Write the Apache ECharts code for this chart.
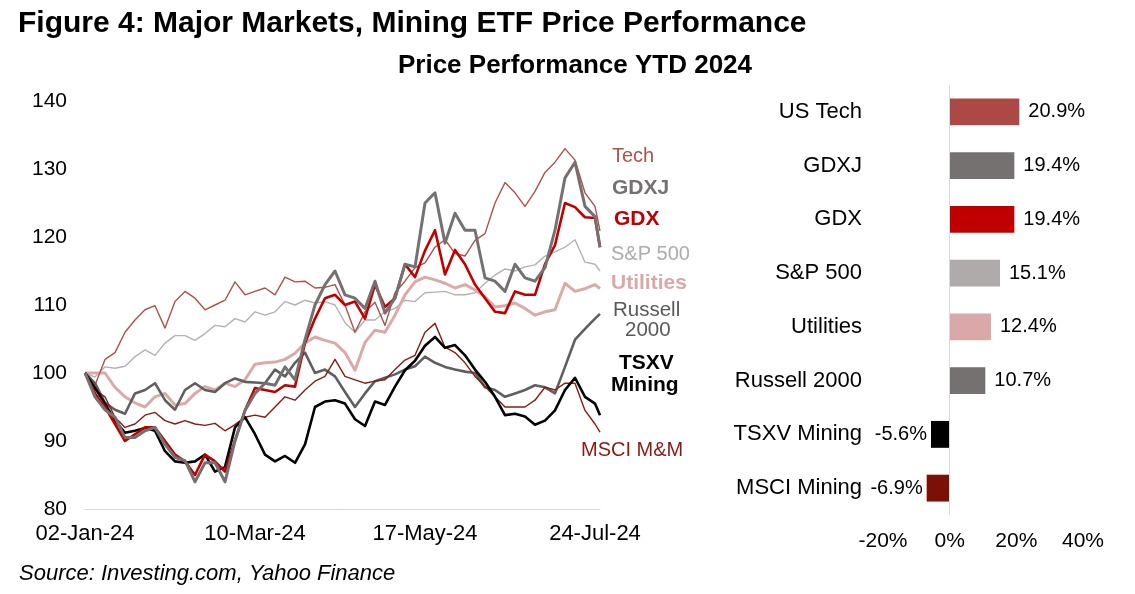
<!DOCTYPE html>
<html>
<head>
<meta charset="utf-8">
<script src="https://cdn.jsdelivr.net/npm/echarts@6/dist/echarts.min.js"></script>
<style>
html,body{margin:0;padding:0;background:#fff;}
#chart{width:1135px;height:594px;}
</style>
</head>
<body>
<div id="chart"></div>
<script>
// ---------- DATA ----------
const dates = ["2024-01-02","2024-01-06","2024-01-10","2024-01-14","2024-01-18","2024-01-22","2024-01-26","2024-01-30",
"2024-02-03","2024-02-07","2024-02-11","2024-02-15","2024-02-19","2024-02-23","2024-02-27","2024-03-02","2024-03-06",
"2024-03-10","2024-03-14","2024-03-18","2024-03-22","2024-03-26","2024-03-30","2024-04-03","2024-04-07","2024-04-11",
"2024-04-15","2024-04-19","2024-04-23","2024-04-27","2024-05-01","2024-05-05","2024-05-09","2024-05-13","2024-05-17",
"2024-05-21","2024-05-25","2024-05-29","2024-06-02","2024-06-06","2024-06-10","2024-06-14","2024-06-18","2024-06-22",
"2024-06-26","2024-06-30","2024-07-04","2024-07-08","2024-07-12","2024-07-16","2024-07-20","2024-07-24","2024-07-26"];

const tech = [100,98.2,102,103,106,107.8,109.3,109.9,106.6,110.5,112,111,109.3,110,110.7,113.4,111.5,112,112.5,111.5,
114.1,113.4,113.5,112.5,112.6,113,110,106,109,110.4,107,111.8,113.5,115.5,116.2,118.5,119.6,117.6,117.2,119.5,
120.5,125,128,126.5,124.5,126.7,129.5,131,133,131.3,126.5,124.5,120.9];
const gdxj = [100,96.5,94.6,93.5,90.5,90.5,91.5,92,89.5,87.6,87.1,84,86.8,86.8,84,90,94.5,97,98.5,98.2,
100.9,99,104.9,110,113,115,111.5,111,109.5,113.5,108.8,111,116,115.6,125,126.5,119.1,123.5,121,121,
114,113.5,112,116,114,113.5,115.5,121,128.7,131,124.5,123,118.5];
const gdx = [100,97,95,92.5,90,91,92,92,90,88,87,85,88,87,85.5,90.1,94.5,97.8,97.5,97.2,
98.2,98,104.4,108,111,111.5,110,110.5,108,113,109.7,111,116,114.1,118,121,114.5,118.1,116,113,
111,109,108.8,112,111.5,111.5,116,118.8,125,124.4,122.9,122.8,118.5];
const sp500 = [100,99.4,100.9,100.7,101,102.4,103.4,102.6,104.4,105.5,105.5,104.8,105.8,107,106.8,108,107.5,109,108.5,109,
110.5,110,110.7,110.3,110.5,110,107.4,106,107.8,107.8,109,109.5,110.7,110.5,111.8,111.9,112,111.5,111.5,111.8,
113.2,114.4,115.3,115,115.6,115.9,117.2,117.8,118.5,119.6,116.3,116,115];
const utilities = [100,100,100,97.9,96.5,95.6,95,96.5,97,95.3,95.5,97,98,97.5,98.5,98,99,101.3,101.5,101.6,
102,102.9,104.4,105.3,104.8,104.4,103,100.4,104.5,106.3,106,108.5,111.5,113.4,114.1,113.7,113.2,112.5,113,112.2,
111.2,109.7,109.9,110.3,109.5,108.5,109,109.3,113.2,112,112.4,113,112.4];
const russell = [100,98.5,95.6,94.6,94,97,97.5,98.5,96,94.6,97.5,98.5,97.5,97.2,98.5,99.2,98.7,98.6,98.5,100.5,
99.5,101.5,103,100,100.5,99.5,97.2,95,97,98.8,99.3,99.8,100.5,101,102.4,101.5,100.9,100.5,100.2,100,
97.9,97.5,96.5,97,97.5,98.2,97.9,97,100.9,104.9,106.5,108,108.7];
const tsxv = [100,97.8,95.5,93,91.2,91.5,91.9,91.5,88.5,87,86.8,87,88,85.5,86.2,92,93.5,91,88,87,
87.8,86.8,89.5,95,95.8,96,95.5,93.2,92.2,95.8,95.3,98,100.4,101.8,104,105.3,103.7,104.1,102.6,100.5,
98.7,96.5,93.8,94,93.6,92.4,93,94.5,97.5,99.3,96.5,95.5,93.8];
const msci = [100,97.5,96.5,93.5,92,92.5,93.8,94.2,93,92.5,93,92.5,92.3,92.6,91.5,92.4,93.5,93.8,93.5,95,
96.5,96,97.5,98.8,99.5,102,99.5,99,98.5,98.8,99,100.5,101.9,102.6,106,107.3,103.8,103,101.5,99.5,
98,96.5,95,95,95,96,97.9,97.5,98.5,98.5,94.5,92.5,91.3];

const yTicks = [80, 90, 100, 110, 120, 130, 140];

const barCategories = ["US Tech","GDXJ","GDX","S&P 500","Utilities","Russell 2000","TSXV Mining","MSCI Mining"];
const barValues = [20.9, 19.4, 19.4, 15.1, 12.4, 10.7, -5.6, -6.9];
const barTicks = [-20, 0, 20, 40];

// ---------- STYLES ----------
const FONT = "'Liberation Sans', Arial, sans-serif";
const barColors = ["#AD4944","#767171","#C00000","#AFABAB","#D9A9A9","#767171","#000000","#7B1009"];

const startMs = Date.UTC(2024,0,2);
const dayOffsets = dates.map(d => {
  const p = d.split('-').map(Number);
  return Math.round((Date.UTC(p[0],p[1]-1,p[2]) - startMs)/86400000);
});
const MON = ["Jan","Feb","Mar","Apr","May","Jun","Jul","Aug","Sep","Oct","Nov","Dec"];
function fmtDay(off){
  const dt = new Date(startMs + off*86400000);
  const dd = String(dt.getUTCDate()).padStart(2,'0');
  return dd + '-' + MON[dt.getUTCMonth()] + '-24';
}
function pairs(vals){ return dayOffsets.map((d,i)=>[d, vals[i]]); }

function lineSeries(name, vals, color, width){
  return {
    name: name, type:'line', xAxisIndex:0, yAxisIndex:0,
    data: pairs(vals), showSymbol:false, symbol:'none', silent:true,
    lineStyle:{color:color, width:width, join:'round'},
    itemStyle:{color:color}, animation:false, z:2
  };
}

const chart = echarts.init(document.getElementById('chart'), null, {renderer:'canvas'});

function txt(left, top, text, font, fill){
  return {type:'text', left:left, top:top, style:{text:text, font:font, fill:fill}};
}

const option = {
  animation:false,
  backgroundColor:'#fff',
  textStyle:{fontFamily:FONT},
  title:[
    {text:'Figure 4: Major Markets, Mining ETF Price Performance', left:13, top:4,
     textStyle:{fontFamily:FONT, fontSize:30, fontWeight:'bold', color:'#000'}},
    {text:'Price Performance YTD 2024', left:570, top:48, textAlign:'center',
     textStyle:{fontFamily:FONT, fontSize:26, fontWeight:'bold', color:'#000'}},
    {text:'Source: Investing.com, Yahoo Finance', left:14, top:558,
     textStyle:{fontFamily:FONT, fontSize:22, fontStyle:'italic', fontWeight:'normal', color:'#000'}}
  ],
  grid:[
    {left:85, top:101, width:515, height:408, containLabel:false},
    {left:883, top:85, width:200, height:430, containLabel:false}
  ],
  xAxis:[
    {type:'value', gridIndex:0, min:0, max:206, interval:68,
     axisLine:{show:true, onZero:false, lineStyle:{color:'#D9D9D9', width:1}},
     axisTick:{show:false}, splitLine:{show:false},
     axisLabel:{fontFamily:FONT, fontSize:22, color:'#000', margin:14,
       formatter:function(v){ return (Math.round(v) % 68 === 0) ? fmtDay(Math.round(v)) : ''; }}},
    {type:'value', gridIndex:1, min:barTicks[0], max:barTicks[barTicks.length-1], interval:20,
     axisLine:{show:false}, axisTick:{show:false}, splitLine:{show:false},
     axisLabel:{fontFamily:FONT, fontSize:21, color:'#000', margin:16,
       formatter:function(v){ return v + '%'; }}}
  ],
  yAxis:[
    {type:'value', gridIndex:0, min:yTicks[0], max:yTicks[yTicks.length-1], interval:10,
     axisLine:{show:false}, axisTick:{show:false}, splitLine:{show:false},
     axisLabel:{fontFamily:FONT, fontSize:21, color:'#000', margin:18}},
    {type:'category', gridIndex:1, data:barCategories, inverse:true,
     axisLine:{show:false, onZero:false}, axisTick:{show:false},
     axisLabel:{fontFamily:FONT, fontSize:22, color:'#000', margin:21}}
  ],
  series:[
    lineSeries('S&P 500', sp500, '#B4B1B1', 1.4),
    lineSeries('Utilities', utilities, '#DAAAA9', 3),
    lineSeries('Tech', tech, '#B0504B', 1.4),
    lineSeries('Russell 2000', russell, '#5F5F5F', 2.6),
    lineSeries('MSCI M&M', msci, '#8A1A14', 1.4),
    lineSeries('TSXV Mining', tsxv, '#000000', 2.6),
    lineSeries('GDX', gdx, '#C00000', 2.6),
    lineSeries('GDXJ', gdxj, '#767171', 3),
    {
      type:'bar', xAxisIndex:1, yAxisIndex:1, barWidth:'50%', silent:true,
      data: barValues.map((v,i)=>({value:v, itemStyle:{color:barColors[i]},
        label:{position: v>=0 ? 'right':'left', distance: v>=0 ? 9 : 4}})),
      label:{show:true, fontFamily:FONT, fontSize:20, color:'#000', distance:9,
        formatter:function(p){ return p.value.toFixed(1) + '%'; }},
      markLine:{silent:true, symbol:'none', label:{show:false},
        lineStyle:{color:'#D9D9D9', width:1, type:'solid'},
        data:[{xAxis:0}]}
    }
  ],
  graphic:[
    txt(612, 146, 'Tech', 'normal 20px '+FONT, '#B0504B'),
    txt(612, 178, 'GDXJ', 'bold 21px '+FONT, '#767171'),
    txt(614, 209, 'GDX', 'bold 21px '+FONT, '#C00000'),
    txt(611, 244, 'S&P 500', 'normal 20px '+FONT, '#AFABAB'),
    txt(611, 273, 'Utilities', 'bold 21px '+FONT, '#D9A9A9'),
    txt(613, 300, 'Russell', 'normal 20.5px '+FONT, '#595959'),
    txt(625, 320, '2000', 'normal 20.5px '+FONT, '#595959'),
    txt(619, 353, 'TSXV', 'bold 21px '+FONT, '#000'),
    txt(611, 375, 'Mining', 'bold 21px '+FONT, '#000'),
    txt(581, 440, 'MSCI M&M', 'normal 20px '+FONT, '#8A1A14')
  ]
};
chart.setOption(option);
</script>
</body>
</html>
